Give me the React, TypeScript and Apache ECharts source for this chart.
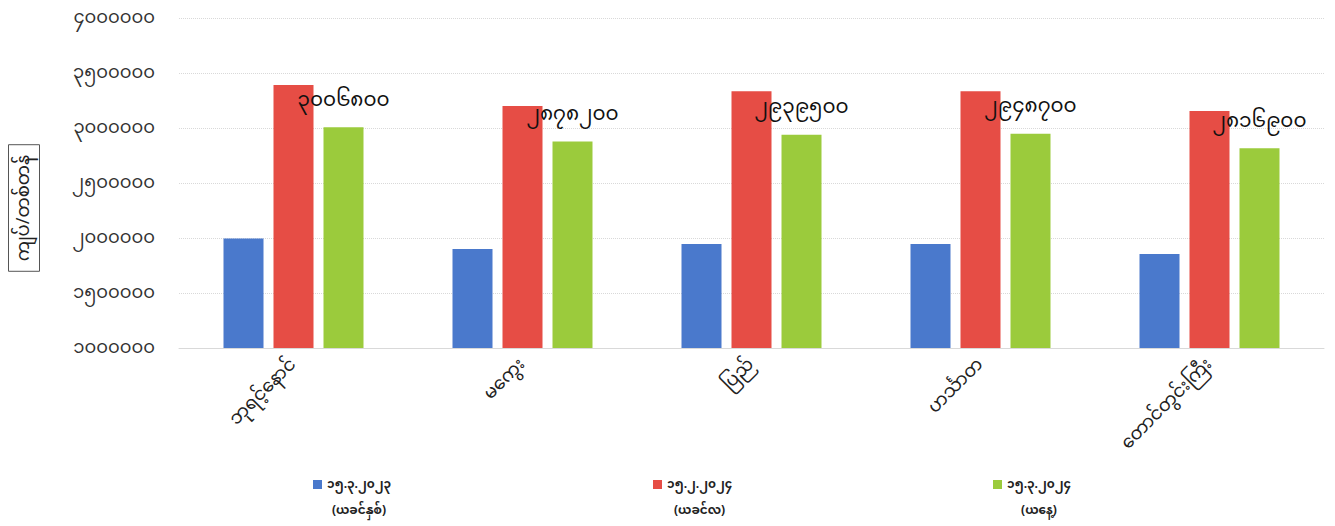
import React, { useEffect, useRef } from "react";
import * as echarts from "echarts";

const categories = ["ဘုရင့်နောင်", "မကွေး", "ပြည်", "ဟင်္သာတ", "တောင်တွင်းကြီး"];
const seriesNames = ["၁၅.၃.၂၀၂၃", "၁၅.၂.၂၀၂၄", "၁၅.၃.၂၀၂၄"];
const seriesNotes = ["(ယခင်နှစ်)", "(ယခင်လ)", "(ယနေ့)"];
const prevYear = [1995000, 1900000, 1945000, 1945000, 1855000];
const prevMonth = [3390000, 3200000, 3335000, 3335000, 3155000];
const today = [3006800, 2878200, 2939500, 2948700, 2816900];
const yAxisTitle = "ကျပ်/တစ်တန်";

const colors = ["#4a79cc", "#e64d45", "#9bcb3c"];
const FONT = "'Noto Sans Myanmar', 'Padauk', 'Myanmar Text', 'Noto Sans', sans-serif";

const toMy = (v: number | string) =>
  String(v).replace(/\d/g, (d) => String.fromCharCode(0x1040 + Number(d)));

export default function App() {
  const ref = useRef<HTMLDivElement>(null);
  useEffect(() => {
    if (!ref.current) return;
    const chart = echarts.init(ref.current, null, { renderer: "svg" });
    const dataSets = [prevYear, prevMonth, today];
    const legendLefts = [313, 653, 993];
    chart.setOption({
      animation: false,
      backgroundColor: "#ffffff",
      textStyle: { fontFamily: FONT },
      grid: { left: 179, right: 11, top: 18, bottom: 178, containLabel: false },
      legend: seriesNames.map((n, i) => ({
        data: [n],
        left: legendLefts[i],
        top: 479,
        padding: 0,
        itemWidth: 9,
        itemHeight: 36,
        itemGap: 4,
        icon: "path://M0,0L10,0L10,10L0,10ZM0,40L0.01,40L0.01,40.01Z",
        formatter: (name: string) => `{a|${name}}\n{b|${seriesNotes[i]}}`,
        textStyle: {
          fontFamily: FONT,
          color: "#222",
          rich: {
            a: { fontSize: 12, fontWeight: "bold", lineHeight: 26, fontFamily: FONT, color: "#222" },
            b: { fontSize: 12, fontWeight: "bold", lineHeight: 26, align: "center", fontFamily: FONT, color: "#222" },
          },
        },
      })),
      xAxis: {
        type: "category",
        data: categories,
        axisLine: { show: true, lineStyle: { color: "#d9d9d9" } },
        axisTick: { show: false },
        axisLabel: {
          rotate: 45,
          margin: 14,
          fontSize: 18,
          color: "#222",
          fontFamily: FONT,
        },
      },
      yAxis: {
        type: "value",
        min: 1000000,
        max: 4000000,
        interval: 500000,
        axisLine: { show: false },
        axisTick: { show: false },
        splitLine: { lineStyle: { color: "#d9d9d9", type: "dotted" } },
        axisLabel: {
          margin: 24,
          fontSize: 18,
          color: "#333",
          fontFamily: FONT,
          formatter: (v: number) => toMy(v),
        },
      },
      graphic: [
        {
          type: "text",
          x: 24,
          y: 208,
          rotation: Math.PI / 2,
          style: {
            text: yAxisTitle,
            fontSize: 18,
            fontFamily: FONT,
            fill: "#222",
            align: "center",
            verticalAlign: "middle",
            borderColor: "#555",
            borderWidth: 1,
            padding: [7, 10, 6, 10],
          },
        },
      ],
      series: dataSets.map((d, i) => ({
        name: seriesNames[i],
        type: "bar",
        data: d,
        barWidth: 40,
        barGap: "25%",
        itemStyle: { color: colors[i] },
        label:
          i === 2
            ? {
                show: true,
                position: "top",
                distance: 16,
                fontSize: 20,
                color: "#111",
                fontFamily: FONT,
                formatter: (p: any) => toMy(p.value),
              }
            : { show: false },
      })),
    });
    return () => chart.dispose();
  }, []);
  return (
    <div
      ref={ref}
      style={{ position: "fixed", left: 0, top: 0, width: 1335, height: 526, background: "#fff" }}
    />
  );
}
